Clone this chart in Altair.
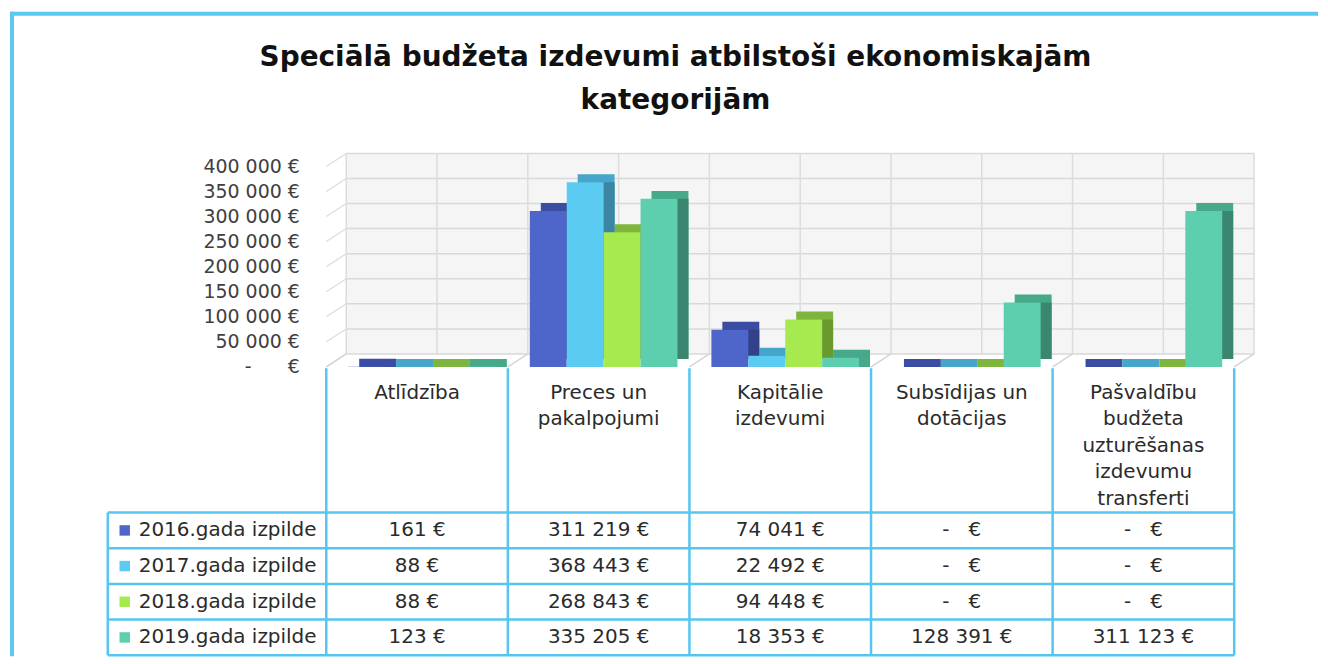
import altair as alt
import pandas as pd

# ---------------- data ----------------
categories = [
    "Atlīdzība",
    "Preces un pakalpojumi",
    "Kapitālie izdevumi",
    "Subsīdijas un dotācijas",
    "Pašvaldību budžeta uzturēšanas izdevumu transferti",
]
category_labels = [
    "Atlīdzība",
    "Preces un\npakalpojumi",
    "Kapitālie\nizdevumi",
    "Subsīdijas un\ndotācijas",
    "Pašvaldību\nbudžeta\nuzturēšanas\nizdevumu\ntransferti",
]
series_names = [
    "2016.gada izpilde",
    "2017.gada izpilde",
    "2018.gada izpilde",
    "2019.gada izpilde",
]
values_2016 = [161, 311219, 74041, 0, 0]
values_2017 = [88, 368443, 22492, 0, 0]
values_2018 = [88, 268843, 94448, 0, 0]
values_2019 = [123, 335205, 18353, 128391, 311123]
y_ticks = [0, 50000, 100000, 150000, 200000, 250000, 300000, 350000, 400000]
title_lines = ["Speciālā budžeta izdevumi atbilstoši ekonomiskajām", "kategorijām"]

# ---------------- styles ----------------
front_colors = ["#4E66C9", "#5BCBF1", "#A6EA50", "#5ECFAE"]
top_colors = ["#3B4DA3", "#45A6C9", "#7EB53C", "#45A98A"]
side_colors = ["#33418A", "#3A85A2", "#6A9A2F", "#3A8670"]
LINE_BLUE = "#56C6F0"
FONT = "DejaVu Sans"
TXT = "#2b2b2b"

PLOT_W, PLOT_H = 910, 504
COL = PLOT_W / 5
G0 = 22 / COL          # group start inside category (category units)
BW = 37 / COL          # bar width (category units)
DX, DY = 11, -8        # 3D depth of bars
WX, WY = 20, -13       # 3D depth of the back wall
LEG_L = -219 / COL     # left edge of the row-header column
LEG_SQ = -202 / COL
LEG_TX = -188 / COL

XS = alt.Scale(domain=[0, 5], range=[0, PLOT_W], zero=False, nice=False)
VS = alt.Scale(domain=[0, 400000], range=[215, 14], zero=False, nice=False)
TS = alt.Scale(domain=[0, 4], range=[361, 504], zero=False, nice=False)

NB = "\u00a0"
fmt_expr = (
    "{v} == 0 ? '-" + NB * 3 + "€' : replace(format({v}, ',d'), ',', '" + NB + "') + '" + NB + "€'"
)
axis_expr = (
    "datum.value == 0 ? '-" + NB * 6 + "€' : replace(format(datum.value, ',d'), ',', '" + NB + "') + '" + NB + "€'"
)

rows = []
for si, vals in enumerate([values_2016, values_2017, values_2018, values_2019]):
    for ci, v in enumerate(vals):
        rows.append(dict(series=series_names[si], si=si, ci=ci, cat=categories[ci], v=v))
bars = pd.DataFrame(rows)

ticks_df = pd.DataFrame({"v": y_ticks})
halves_df = pd.DataFrame({"k": [i / 2 for i in range(11)]})
bounds_df = pd.DataFrame({"k": list(range(6))})
rowlines_df = pd.DataFrame({"t": list(range(5))})
header_df = pd.DataFrame({"ci": list(range(5)), "lab": category_labels})
series_df = pd.DataFrame({"series": series_names, "si": list(range(4))})
title_df = pd.DataFrame({"t": ["\n".join(title_lines)]})
one = pd.DataFrame({"a": [0]})

layers = []

# frame border (top and left)
layers.append(alt.Chart(one).mark_rule(color="#5BC9F0", strokeWidth=4).encode(
    x=alt.value(-317), x2=alt.value(994), y=alt.value(-139)))
layers.append(alt.Chart(one).mark_rule(color="#5BC9F0", strokeWidth=4).encode(
    x=alt.value(-315), y=alt.value(-141), y2=alt.value(505)))

# title
layers.append(alt.Chart(title_df).mark_text(
    font=FONT, fontWeight="bold", fontSize=28, lineBreak="\n", lineHeight=43,
    align="center", baseline="alphabetic", color="#111111").encode(
    x=alt.value(350), y=alt.value(-87), text="t:N"))

# back wall
layers.append(alt.Chart(one).mark_rect(
    color="#f5f5f5", xOffset=WX, x2Offset=WX, yOffset=WY, y2Offset=WY).encode(
    x=alt.XDatum(0, type="quantitative", scale=XS, axis=None),
    x2=alt.X2Datum(5),
    y=alt.YDatum(400000, type="quantitative", scale=VS, axis=None),
    y2=alt.Y2Datum(0)))
# wall horizontal grid
layers.append(alt.Chart(ticks_df).mark_rule(
    color="#d9d9d9", strokeWidth=1.5, xOffset=WX, x2Offset=WX, yOffset=WY).encode(
    x=alt.XDatum(0, type="quantitative", scale=XS, axis=None),
    x2=alt.X2Datum(5),
    y=alt.Y("v:Q", scale=VS, axis=None)))
# left side wall diagonals
layers.append(alt.Chart(ticks_df).mark_rule(
    color="#dcdcdc", strokeWidth=1.2, x2Offset=WX, y2Offset=WY).encode(
    x=alt.XDatum(0, type="quantitative", scale=XS, axis=None),
    x2=alt.X2Datum(0),
    y=alt.Y("v:Q", scale=VS, axis=None),
    y2="v:Q"))
# wall vertical grid
layers.append(alt.Chart(halves_df).mark_rule(
    color="#dcdcdc", strokeWidth=1.5, xOffset=WX, yOffset=WY, y2Offset=WY).encode(
    x=alt.X("k:Q", scale=XS, axis=None),
    y=alt.YDatum(0, type="quantitative", scale=VS, axis=None),
    y2=alt.Y2Datum(400000)))
# floor diagonals
layers.append(alt.Chart(bounds_df).mark_rule(
    color="#d5d5d5", strokeWidth=1.5, x2Offset=WX, y2Offset=WY).encode(
    x=alt.X("k:Q", scale=XS, axis=None),
    x2="k:Q",
    y=alt.YDatum(0, type="quantitative", scale=VS, axis=None),
    y2=alt.Y2Datum(0)))

bar_base = alt.Chart(bars).transform_calculate(
    x0=f"datum.ci + {G0} + datum.si * {BW}",
    x1=f"datum.ci + {G0} + (datum.si + 1) * {BW}",
)


def col(rng):
    return alt.Color("series:N", scale=alt.Scale(domain=series_names, range=rng), legend=None)


bar_x = dict(x=alt.X("x0:Q", scale=XS, axis=None), x2="x1:Q")

# top faces of tall bars
layers.append(bar_base.transform_filter("datum.v >= 20000").mark_rect(
    xOffset=DX, x2Offset=DX, yOffset=DY, y2Offset=DY).encode(
    y=alt.Y("v:Q", scale=VS, axis=None), y2=alt.Y2Datum(0),
    color=col(top_colors), **bar_x))
# top faces of flat bars (lying on the floor)
layers.append(bar_base.transform_filter("datum.v < 20000").mark_rect(
    xOffset=DX, x2Offset=DX, yOffset=DY).encode(
    y=alt.Y("v:Q", scale=VS, axis=None), y2=alt.Y2Datum(0),
    color=col(top_colors), **bar_x))
# side faces
layers.append(bar_base.transform_filter("datum.v >= 20000").mark_rect(
    xOffset=DX, x2Offset=DX, y2Offset=DY).encode(
    y=alt.Y("v:Q", scale=VS, axis=None), y2=alt.Y2Datum(0),
    color=col(side_colors), **bar_x))
# front faces (with value axis)
layers.append(bar_base.mark_rect().encode(
    y=alt.Y("v:Q", scale=VS, axis=alt.Axis(
        values=y_ticks, labelExpr=axis_expr, grid=False, domain=False, ticks=False,
        tickSize=0, labelPadding=27, labelFont=FONT, labelFontSize=19,
        labelColor="#404040", title=None)),
    y2=alt.Y2Datum(0),
    color=col(front_colors), **bar_x))

# ---------------- data table ----------------
layers.append(alt.Chart(rowlines_df).mark_rule(color=LINE_BLUE, strokeWidth=2.5).encode(
    x=alt.XDatum(LEG_L, type="quantitative", scale=XS, axis=None),
    x2=alt.X2Datum(5),
    y=alt.Y("t:Q", scale=TS, axis=None)))
layers.append(alt.Chart(bounds_df).mark_rule(color=LINE_BLUE, strokeWidth=2.5).encode(
    x=alt.X("k:Q", scale=XS, axis=None),
    y=alt.YDatum(-4.05, type="quantitative", scale=TS, axis=None),
    y2=alt.Y2Datum(4)))
layers.append(alt.Chart(one).mark_rule(color=LINE_BLUE, strokeWidth=2.5).encode(
    x=alt.XDatum(LEG_L, type="quantitative", scale=XS, axis=None),
    y=alt.YDatum(0, type="quantitative", scale=TS, axis=None),
    y2=alt.Y2Datum(4)))

# header (category names)
layers.append(alt.Chart(header_df).transform_calculate(xc="datum.ci + 0.5").mark_text(
    font=FONT, fontSize=20, lineBreak="\n", lineHeight=26.5, align="center",
    baseline="alphabetic", color=TXT).encode(
    x=alt.X("xc:Q", scale=XS, axis=None),
    y=alt.YDatum(-3.19, type="quantitative", scale=TS, axis=None),
    text="lab:N"))

# row headers: legend square + series name
layers.append(alt.Chart(series_df).transform_calculate(yc="datum.si + 0.5").mark_square(
    size=110, opacity=1).encode(
    x=alt.XDatum(LEG_SQ, type="quantitative", scale=XS, axis=None),
    y=alt.Y("yc:Q", scale=TS, axis=None),
    color=col(front_colors)))
layers.append(alt.Chart(series_df).transform_calculate(yc="datum.si + 0.5").mark_text(
    font=FONT, fontSize=20, align="left", baseline="middle", color=TXT).encode(
    x=alt.XDatum(LEG_TX, type="quantitative", scale=XS, axis=None),
    y=alt.Y("yc:Q", scale=TS, axis=None),
    text="series:N"))

# cell values
layers.append(alt.Chart(bars).transform_calculate(
    xc="datum.ci + 0.5", yc="datum.si + 0.5",
    lab=fmt_expr.format(v="datum.v")).mark_text(
    font=FONT, fontSize=20, align="center", baseline="middle", color=TXT).encode(
    x=alt.X("xc:Q", scale=XS, axis=None),
    y=alt.Y("yc:Q", scale=TS, axis=None),
    text="lab:N"))

chart = alt.layer(*layers).properties(
    width=PLOT_W, height=PLOT_H,
    padding={"left": 0, "top": 1, "right": 0, "bottom": 0},
).resolve_scale(y="independent", color="independent").configure_view(stroke=None)

chart.save("out.html", embed_options={"renderer": "svg", "actions": False})
